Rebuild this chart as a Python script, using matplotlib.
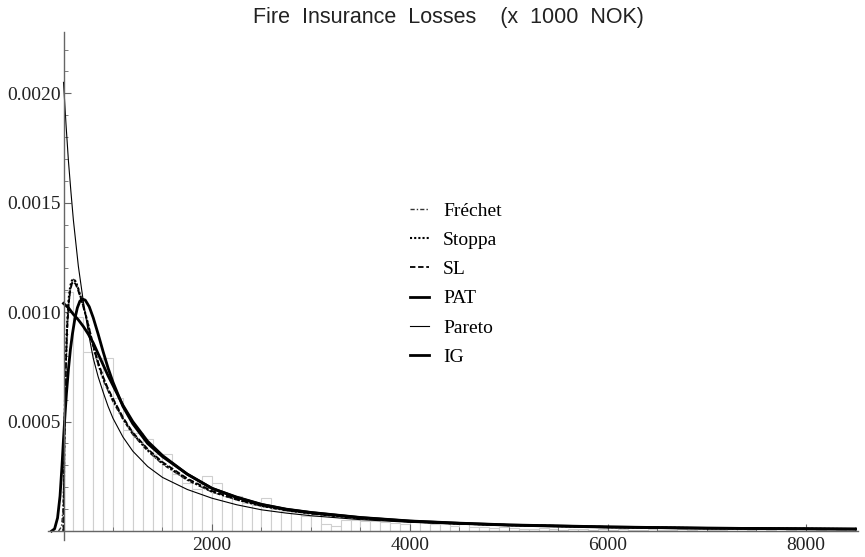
import matplotlib
matplotlib.use("Agg")
import matplotlib.pyplot as plt
from matplotlib.ticker import MultipleLocator, FormatStrFormatter, FixedLocator

SCALE = 1e-3  # densities below are given in units of 1e-3

# ── histogram (bin left edges, density) ─────────────────────────────
bin_width = 100
bin_left = list(range(500, 8500, 100))
hist_density = [
    1.09, 0.98, 0.82, 0.79, 0.79, 0.61, 0.46, 0.45,
    0.42, 0.35, 0.35, 0.26, 0.22, 0.19, 0.25, 0.22,
    0.16, 0.16, 0.13, 0.12, 0.15, 0.10, 0.09, 0.085,
    0.07, 0.07, 0.03, 0.025, 0.05, 0.05, 0.045, 0.045,
    0.04, 0.035, 0.03, 0.045, 0.04, 0.03, 0.03, 0.025,
    0.03, 0.02, 0.02, 0.015, 0.02, 0.015, 0.01, 0.01,
    0.015, 0.01, 0.005, 0.01, 0.01, 0.005, 0.01, 0.005,
    0.01, 0.005, 0.005, 0.01, 0.005, 0.005, 0.01, 0.005,
    0.0, 0.005, 0.005, 0.0, 0.01, 0.005, 0.0, 0.005,
    0.0, 0.005, 0.0, 0.01, 0.005, 0.0, 0.005, 0.0,
]

# ── fitted densities ───────────────────────────────────────────────
tail_x = [1100, 1200, 1350, 1500, 1750, 2000, 2250, 2500, 2750, 3000,
          3500, 4000, 4500, 5000, 6000, 7000, 8500]

frechet_x = [450, 480, 495, 500, 505, 510, 518, 528, 540, 555, 570, 585, 600,
             620, 640, 670, 700, 740, 800, 850, 900, 950, 1000] + tail_x
frechet_y = [0, 0.02, 0.1, 0.18, 0.3, 0.42, 0.6, 0.78, 0.93, 1.04, 1.10, 1.135, 1.15,
             1.145, 1.125, 1.08, 1.03, 0.96, 0.84, 0.76, 0.69, 0.64, 0.59,
             0.51, 0.44, 0.365, 0.305, 0.232, 0.178, 0.142, 0.113, 0.094, 0.079,
             0.058, 0.044, 0.034, 0.027, 0.018, 0.013, 0.009]

stoppa_x = [500, 503, 508, 515, 525, 538, 552, 568, 585, 600, 620, 640, 670,
            700, 740, 800, 850, 900, 950, 1000] + tail_x
stoppa_y = [0, 0.15, 0.38, 0.6, 0.8, 0.96, 1.06, 1.12, 1.145, 1.15, 1.14, 1.12, 1.075,
            1.03, 0.96, 0.845, 0.765, 0.70, 0.645, 0.60,
            0.515, 0.445, 0.37, 0.31, 0.235, 0.18, 0.144, 0.115, 0.095, 0.08,
            0.058, 0.044, 0.034, 0.027, 0.018, 0.013, 0.009]

sl_x = [500, 503, 508, 515, 525, 538, 552, 568, 585, 600, 620, 640, 670,
        700, 740, 800, 850, 900, 950, 1000] + tail_x
sl_y = [0, 0.13, 0.35, 0.57, 0.78, 0.94, 1.04, 1.1, 1.13, 1.14, 1.13, 1.11, 1.07,
        1.025, 0.96, 0.85, 0.77, 0.705, 0.65, 0.605,
        0.52, 0.45, 0.375, 0.315, 0.24, 0.183, 0.146, 0.117, 0.096, 0.081,
        0.059, 0.045, 0.035, 0.028, 0.019, 0.013, 0.009]

pat_x = [500, 550, 600, 650, 700, 750, 800, 850, 900, 950, 1000] + tail_x
pat_y = [1.04, 1.02, 0.99, 0.965, 0.935, 0.9, 0.86, 0.81, 0.76, 0.71, 0.665,
         0.575, 0.5, 0.41, 0.345, 0.26, 0.195, 0.155, 0.122, 0.1, 0.085,
         0.062, 0.046, 0.036, 0.028, 0.019, 0.013, 0.009]

pareto_x = [500, 525, 550, 575, 600, 650, 700, 750, 800, 850, 900, 950, 1000] + tail_x
pareto_y = [2.05, 1.86, 1.69, 1.55, 1.42, 1.21, 1.05, 0.91, 0.79, 0.705, 0.635, 0.57, 0.515,
            0.43, 0.365, 0.295, 0.245, 0.19, 0.15, 0.12, 0.097, 0.082, 0.07,
            0.052, 0.04, 0.032, 0.026, 0.018, 0.013, 0.009]

ig_x = [380, 410, 440, 465, 485, 500, 515, 530, 550, 570, 590, 615, 640, 665, 690,
        720, 760, 800, 850, 900, 950, 1000] + tail_x
ig_y = [0, 0.01, 0.06, 0.16, 0.3, 0.42, 0.53, 0.63, 0.74, 0.83, 0.9, 0.97, 1.02, 1.05, 1.06,
        1.055, 1.025, 0.975, 0.9, 0.82, 0.745, 0.68,
        0.57, 0.49, 0.4, 0.34, 0.26, 0.195, 0.153, 0.121, 0.099, 0.084,
        0.061, 0.045, 0.035, 0.027, 0.018, 0.013, 0.009]


def sc(vals):
    return [v * SCALE for v in vals]


plt.rcParams["font.family"] = ["Liberation Serif", "DejaVu Serif"]

fig = plt.figure(figsize=(8.65, 5.57), dpi=100)
ax = fig.add_axes([0.0551, 0.0305, 0.9373, 0.912])

ax.bar(bin_left, sc(hist_density), width=bin_width, align="edge",
       facecolor="white", edgecolor="#cfcfcf", linewidth=0.8, zorder=1)

ax.plot(frechet_x, sc(frechet_y), color="#333333", lw=1.0, ls=(0, (3, 1.5, 1, 1.5)), label="Fréchet", zorder=3)
ax.plot(stoppa_x, sc(stoppa_y), color="black", lw=1.5, ls=(0, (1, 1)), label="Stoppa", zorder=3)
ax.plot(sl_x, sc(sl_y), color="black", lw=1.3, ls=(0, (3, 1.5)), label="SL", zorder=3)
ax.plot(pat_x, sc(pat_y), color="black", lw=2.0, label="PAT", zorder=3)
ax.plot(pareto_x, sc(pareto_y), color="black", lw=0.8, label="Pareto", zorder=3)
ax.plot(ig_x, sc(ig_y), color="black", lw=2.0, label="IG", zorder=3)

ax.set_xlim(340, 8530)
ax.set_ylim(-0.000041, 0.00228)

for s in ["top", "right"]:
    ax.spines[s].set_visible(False)
ax.spines["left"].set_position(("data", 500))
ax.spines["bottom"].set_position(("data", 0))
for s in ["left", "bottom"]:
    ax.spines[s].set_color("#666666")
    ax.spines[s].set_linewidth(1.0)
    ax.spines[s].set_zorder(4)

ax.xaxis.set_major_locator(FixedLocator([2000, 4000, 6000, 8000]))
ax.xaxis.set_minor_locator(MultipleLocator(500))
ax.yaxis.set_major_locator(FixedLocator([0.0005, 0.0010, 0.0015, 0.0020]))
ax.yaxis.set_minor_locator(MultipleLocator(0.0001))
ax.yaxis.set_major_formatter(FormatStrFormatter("%.4f"))
ax.tick_params(which="both", direction="in", colors="#666666", labelcolor="#222222", labelsize=14)
ax.tick_params(which="major", length=5, width=0.8)
ax.tick_params(which="minor", length=3, width=0.6)
ax.tick_params(axis="x", pad=4)
ax.tick_params(axis="y", pad=2)

ax.legend(loc="upper left", bbox_to_anchor=(410 / 865, 1 - 202 / 557),
          bbox_transform=fig.transFigure, frameon=False, fontsize=14,
          handlelength=1.0, handletextpad=0.7, labelspacing=0.6,
          borderpad=0, borderaxespad=0)

fig.text(0.519, 0.968, "Fire  Insurance  Losses    (x  1000  NOK)", ha="center", va="center",
         fontsize=15.5, family=["Liberation Sans", "DejaVu Sans"], color="#222222")

fig.savefig("out.png", dpi=100)
